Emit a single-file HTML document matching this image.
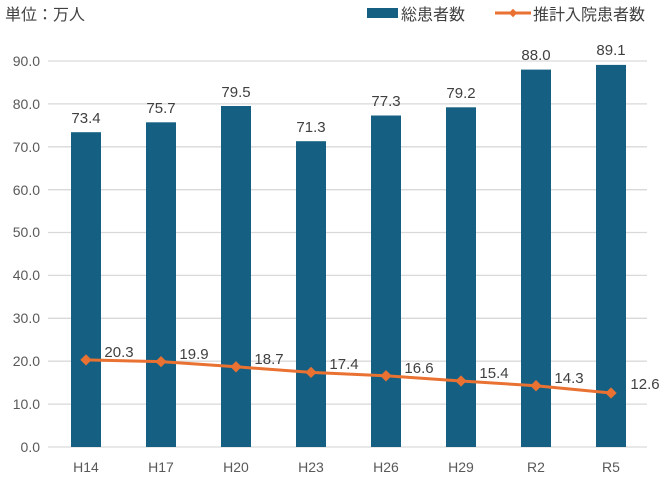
<!DOCTYPE html>
<html><head><meta charset="utf-8"><style>
body{margin:0;background:#fff}
svg{display:block;font-family:"Liberation Sans","Noto Sans CJK JP",sans-serif}
</style></head><body>
<svg width="660" height="477" viewBox="0 0 660 477" xmlns="http://www.w3.org/2000/svg">
<text x="5" y="20" font-size="16" fill="#404040">単位：万人</text>
<rect x="367" y="8" width="31" height="10" fill="#156082"/>
<text x="401" y="20" font-size="16" fill="#404040">総患者数</text>
<line x1="495" y1="13" x2="531" y2="13" stroke="#E97132" stroke-width="3"/>
<rect x="510" y="10" width="6" height="6" fill="#E97132" transform="rotate(45 513 13)"/>
<text x="533" y="20" font-size="16" fill="#404040">推計入院患者数</text>
<g stroke="#d9d9d9" stroke-width="1.3">
<line x1="48" x2="647" y1="447" y2="447"/><line x1="48" x2="647" y1="404.1" y2="404.1"/>
<line x1="48" x2="647" y1="361.2" y2="361.2"/><line x1="48" x2="647" y1="318.3" y2="318.3"/>
<line x1="48" x2="647" y1="275.4" y2="275.4"/><line x1="48" x2="647" y1="232.5" y2="232.5"/>
<line x1="48" x2="647" y1="189.7" y2="189.7"/><line x1="48" x2="647" y1="146.8" y2="146.8"/>
<line x1="48" x2="647" y1="103.9" y2="103.9"/><line x1="48" x2="647" y1="61" y2="61"/>
</g>
<g font-size="14" fill="#595959" text-anchor="end">
<text x="40" y="452">0.0</text><text x="40" y="409">10.0</text><text x="40" y="366">20.0</text>
<text x="40" y="323">30.0</text><text x="40" y="280">40.0</text><text x="40" y="237">50.0</text>
<text x="40" y="195">60.0</text><text x="40" y="152">70.0</text><text x="40" y="109">80.0</text>
<text x="40" y="66">90.0</text>
</g>
<g fill="#156082">
<rect x="71" y="132.2" width="30" height="314.8"/>
<rect x="146" y="122.3" width="30" height="324.7"/>
<rect x="221" y="106" width="30" height="341"/>
<rect x="296" y="141.2" width="30" height="305.8"/>
<rect x="371" y="115.5" width="30" height="331.5"/>
<rect x="446" y="107.3" width="30" height="339.7"/>
<rect x="521" y="69.6" width="30" height="377.4"/>
<rect x="596" y="64.9" width="30" height="382.1"/>
</g>
<g font-size="15" fill="#404040" text-anchor="middle">
<text x="86" y="123">73.4</text><text x="161" y="113">75.7</text><text x="236" y="97">79.5</text>
<text x="311" y="132">71.3</text><text x="386" y="106">77.3</text><text x="461" y="98">79.2</text>
<text x="536" y="60">88.0</text><text x="611" y="55">89.1</text>
</g>
<polyline fill="none" stroke="#E97132" stroke-width="3" points="86,359.9 161,361.6 236,366.8 311,372.4 386,375.8 461,381 536,385.7 611,393"/>
<g fill="#E97132">
<rect x="82" y="355.9" width="8" height="8" transform="rotate(45 86 359.9)"/>
<rect x="157" y="357.6" width="8" height="8" transform="rotate(45 161 361.6)"/>
<rect x="232" y="362.8" width="8" height="8" transform="rotate(45 236 366.8)"/>
<rect x="307" y="368.4" width="8" height="8" transform="rotate(45 311 372.4)"/>
<rect x="382" y="371.8" width="8" height="8" transform="rotate(45 386 375.8)"/>
<rect x="457" y="377" width="8" height="8" transform="rotate(45 461 381)"/>
<rect x="532" y="381.7" width="8" height="8" transform="rotate(45 536 385.7)"/>
<rect x="607" y="389" width="8" height="8" transform="rotate(45 611 393)"/>
</g>
<g font-size="15" fill="#404040" text-anchor="middle">
<text x="119" y="357">20.3</text><text x="194" y="359">19.9</text><text x="269" y="364">18.7</text>
<text x="344" y="369">17.4</text><text x="419" y="373">16.6</text><text x="494" y="378">15.4</text>
<text x="569" y="383">14.3</text><text x="645" y="389">12.6</text>
</g>
<g font-size="14" fill="#595959" text-anchor="middle">
<text x="86" y="472">H14</text><text x="161" y="472">H17</text><text x="236" y="472">H20</text>
<text x="311" y="472">H23</text><text x="386" y="472">H26</text><text x="461" y="472">H29</text>
<text x="536" y="472">R2</text><text x="611" y="472">R5</text>
</g>
</svg>
</body></html>
